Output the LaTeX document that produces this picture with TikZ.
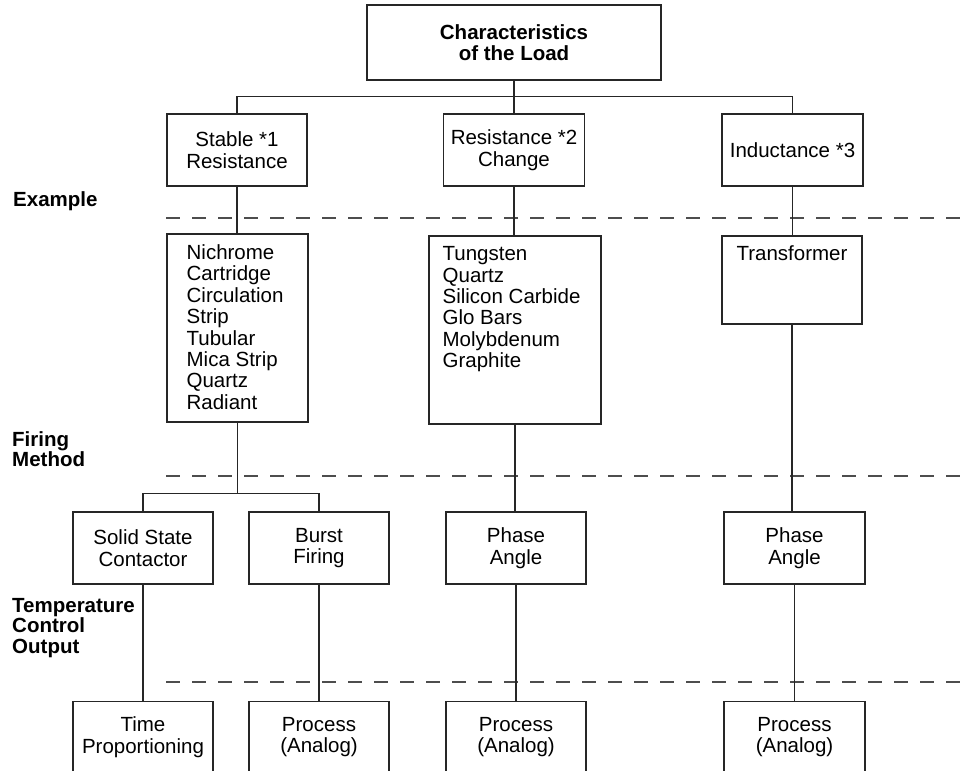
\documentclass[tikz,border=0pt]{standalone}
\usepackage{fontspec}
\setmainfont{Liberation Sans}
\usetikzlibrary{positioning}
\definecolor{loadline}{HTML}{262626}
\definecolor{loaddash}{HTML}{4D4D4D}

\begin{document}
\begin{tikzpicture}[
  x=1pt, y=-1pt,
  font=\fontsize{20.5}{21.4}\selectfont,
  loadbox/.style={
    rectangle, draw=loadline, line width=1.1pt,
    minimum width=140pt, minimum height=72pt,
    inner sep=0pt, align=center,
  },
  loadlist/.style={
    rectangle, draw=loadline, line width=1.1pt,
    minimum height=188pt, inner sep=0pt,
  },
  loadtext/.style={anchor=north west, inner sep=0pt, align=left},
  loadlabel/.style={
    anchor=north west, inner sep=0pt, align=left,
    font=\fontsize{20.5}{20.5}\selectfont\bfseries,
  },
  loadsep/.style={draw=loaddash, line width=1.1pt, dash pattern=on 14pt off 12pt},
  loadlink/.style={draw=loadline, line width=1.1pt},
]
\useasboundingbox (0,0) rectangle (972,771);
\clip (0,0) rectangle (972,771);

% row separators
\foreach \sepy in {218,476,682}
  \draw[loadsep] (166,\sepy) -- (980,\sepy);

% row labels
\node[loadlabel] (lblexample) at (13,191) {Example};
\node[loadlabel] (lblfiring) at (12,431) {Firing\\Method};
\node[loadlabel] (lbltemp) at (12,598) {Temperature\\Control\\Output};

% load characteristics
\node[loadbox, minimum width=294pt, minimum height=75pt,
  font=\fontsize{20.5}{20.5}\selectfont\bfseries] (loadtop) at (514,42.5) {Characteristics\\of the Load};
\node[loadbox] (stable) at (237,150) {Stable *1\\Resistance};
\node[loadbox, minimum width=141pt] (rchange) at (514,150) {Resistance *2\\Change};
\node[loadbox, minimum width=141pt] (induct) at (792.5,150) {Inductance *3};

% examples
\node[loadlist, minimum width=141pt] (heaters) at (237.5,328) {};
\node[loadtext] (heaterstext) at ([shift={(20,11)}]heaters.north west) {%
  Nichrome\\Cartridge\\Circulation\\Strip\\Tubular\\Mica Strip\\Quartz\\Radiant};
\node[loadlist, minimum width=172pt] (elements) at (515,330) {};
\node[loadtext] (elementstext) at ([shift={(14,11)}]elements.north west) {%
  Tungsten\\Quartz\\Silicon Carbide\\Glo Bars\\Molybdenum\\Graphite};
\node[loadlist, minimum width=140pt, minimum height=88pt] (xformer) at (792,280) {};
\node[anchor=north, inner sep=0pt] (xformertext) at ([yshift=-10pt]xformer.north) {Transformer};

% firing method
\node[loadbox] (ssc) at (143,548) {Solid State\\Contactor};
\node[loadbox] (burst) at (319,548) {Burst\\Firing};
\node[loadbox] (phaseA) at (516,548) {Phase\\Angle};
\node[loadbox, minimum width=141pt] (phaseB) at (794.5,548) {Phase\\Angle};

% control output
\node[loadbox, below=116pt of ssc] (timeprop) {Time\\Proportioning};
\node[loadbox, below=116pt of burst] (procA) {Process\\(Analog)};
\node[loadbox, below=116pt of phaseA] (procB) {Process\\(Analog)};
\node[loadbox, minimum width=141pt, below=116pt of phaseB] (procC) {Process\\(Analog)};

% links
\draw[loadlink] (loadtop.south) -- ++(0,16) coordinate (loadbus);
\draw[loadlink] (stable.north) |- (loadbus) -| (induct.north);
\draw[loadlink] (rchange.north) -- (rchange.north |- loadbus);
\draw[loadlink] (stable.south) -- (stable.south |- heaters.north);
\draw[loadlink] (rchange.south) -- (rchange.south |- elements.north);
\draw[loadlink] (induct.south) -- (induct.south |- xformer.north);
\draw[loadlink] (heaters.south) -- ++(0,71) coordinate (heatersplit);
\draw[loadlink] (ssc.north) |- (heatersplit) -| (burst.north);
\draw[loadlink] (elements.south) -- (elements.south |- phaseA.north);
\draw[loadlink] (xformer.south) -- (xformer.south |- phaseB.north);
\draw[loadlink] (ssc) -- (timeprop);
\draw[loadlink] (burst) -- (procA);
\draw[loadlink] (phaseA) -- (procB);
\draw[loadlink] (phaseB) -- (procC);
\end{tikzpicture}
\end{document}
